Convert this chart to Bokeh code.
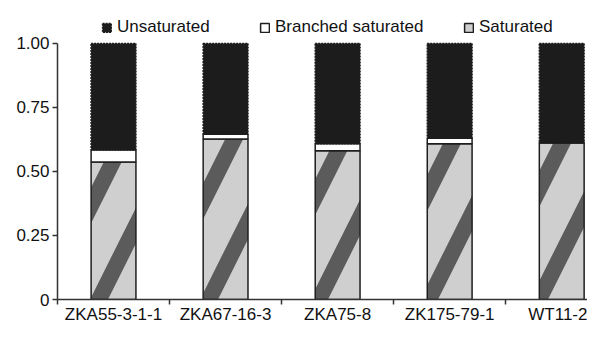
from bokeh.plotting import figure
from bokeh.models import (Range1d, FixedTicker, CustomJSTickFormatter, Legend,
                          LegendItem, ColumnDataSource)
from bokeh.embed import file_html
from bokeh.resources import INLINE

samples = ["ZKA55-3-1-1", "ZKA67-16-3", "ZKA75-8", "ZK175-79-1", "WT11-2"]
saturated = [0.537, 0.627, 0.581, 0.608, 0.611]
branched = [0.047, 0.018, 0.027, 0.022, 0.003]
unsaturated = [0.416, 0.355, 0.392, 0.370, 0.386]
y_ticks = [0, 0.25, 0.5, 0.75, 1.0]

xpos = list(range(1, len(samples) + 1))
top_sat = saturated
top_br = [s + b for s, b in zip(saturated, branched)]
top_un = [t + u for t, u in zip(top_br, unsaturated)]

src = ColumnDataSource(dict(x=xpos, sat=top_sat, br=top_br, un=top_un))

FONT = "Liberation Sans"

p = figure(width=587, height=326, x_range=Range1d(0.5, 5.23), y_range=Range1d(0, 1.152),
           output_backend="svg", toolbar_location=None,
           min_border_left=57, min_border_right=0, min_border_top=4, min_border_bottom=0)
p.outline_line_color = None
p.xgrid.visible = False
p.ygrid.visible = False
p.background_fill_color = "white"

r_sat = p.vbar(x="x", bottom=0, top="sat", width=0.4, source=src,
               fill_color="#cfcfcf", line_color="#1e1e1e", line_width=1.5,
               hatch_pattern="/", hatch_scale=110, hatch_weight=16,
               hatch_color="#2a2a2a", hatch_alpha=0.7)
r_br = p.vbar(x="x", bottom="sat", top="br", width=0.4, source=src,
              fill_color="white", line_color="#1e1e1e", line_width=1.5)
r_un = p.vbar(x="x", bottom="br", top="un", width=0.4, source=src,
              fill_color="#1c1c1c", line_color="#1c1c1c", line_width=1.5,
              line_dash="2 1")

# axes
xa = p.xaxis[0]
xa.ticker = FixedTicker(ticks=xpos, minor_ticks=[v - 0.5 for v in xpos])
xa.formatter = CustomJSTickFormatter(args=dict(labels=samples),
                                     code="return labels[Math.round(tick) - 1];")
xa.major_tick_out = 0
xa.major_tick_in = 0
xa.minor_tick_out = 5
xa.minor_tick_in = 0
xa.major_label_standoff = 0
xa.axis_line_color = "#333333"
xa.axis_line_width = 1.5
xa.minor_tick_line_color = "#333333"
xa.minor_tick_line_width = 1.5
xa.major_label_text_font = FONT
xa.major_label_text_font_size = "17px"
xa.major_label_text_color = "#111111"

ya = p.yaxis[0]
ya.bounds = (0, 1)
ya.ticker = FixedTicker(ticks=y_ticks, minor_ticks=[])
ya.formatter = CustomJSTickFormatter(code="return tick == 0 ? '0' : tick.toFixed(2);")
ya.major_tick_out = 5
ya.major_tick_in = 0
ya.minor_tick_out = 0
ya.minor_tick_in = 0
ya.major_label_standoff = 3
ya.axis_line_color = "#333333"
ya.axis_line_width = 1.5
ya.major_tick_line_color = "#333333"
ya.major_tick_line_width = 1.5
ya.major_label_text_font = FONT
ya.major_label_text_font_size = "17px"
ya.major_label_text_color = "#111111"

# legends, one per item for exact placement (inside the frame, above 1.00)
def add_leg(label, rend, xloc):
    leg = Legend(items=[LegendItem(label=label, renderers=[rend])],
                 location=(xloc, 262), orientation="horizontal",
                 padding=0, margin=0, spacing=0,
                 glyph_width=11, glyph_height=11, label_standoff=5,
                 label_text_font=FONT, label_text_font_size="17px",
                 label_text_color="#111111",
                 background_fill_alpha=0, border_line_alpha=0)
    p.add_layout(leg, "center")

add_leg("Unsaturated", r_un, 44)
add_leg("Branched saturated", r_br, 202)
add_leg("Saturated", r_sat, 406)

open("out.html", "w").write(file_html(p, INLINE))
